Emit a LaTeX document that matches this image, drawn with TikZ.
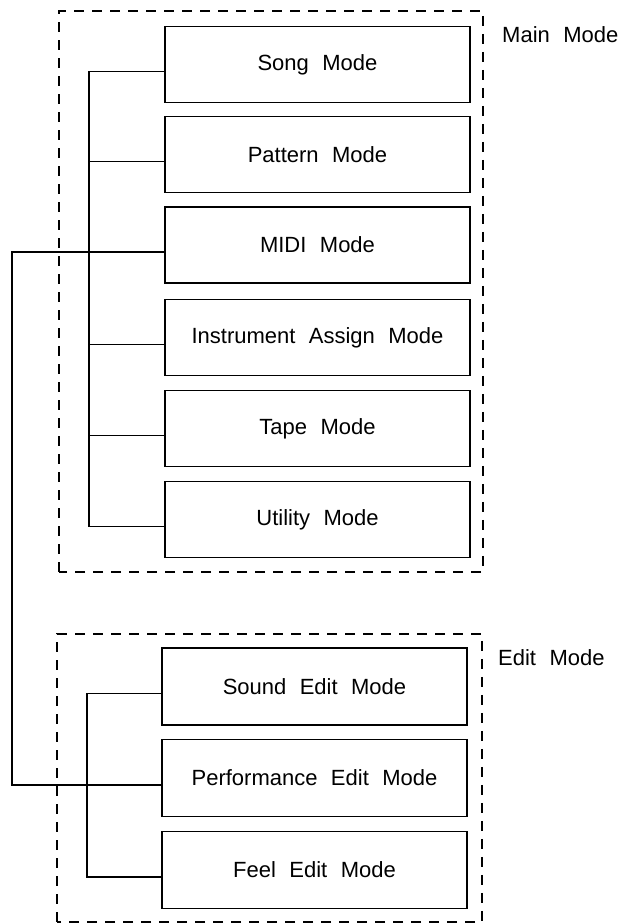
\documentclass[tikz,border=0pt]{standalone}
\usepackage{fontspec}
\setmainfont{Liberation Sans}[WordSpace=2.2]
\begin{document}
\begin{tikzpicture}[x=1pt,y=1pt,
  modebox/.style={draw, line width=1.6pt, minimum width=305pt, minimum height=76pt, inner sep=0pt, font=\fontsize{22}{26}\selectfont},
  groupframe/.style={draw, dash pattern=on 10pt off 8pt, line width=1.4pt},
  wire/.style={line width=1.2pt},
  grouplabel/.style={anchor=base west, inner sep=0pt, font=\fontsize{22}{26}\selectfont}]
\useasboundingbox (0,0) rectangle (621,924);
% group frames
\draw[groupframe] (59,352) rectangle (483,913);
\draw[groupframe] (57,2) rectangle (482,290);
\node[grouplabel] (mainlbl) at (502,881) {Main Mode};
\node[grouplabel] (editlbl) at (498,258) {Edit Mode};
% main mode boxes
\node[modebox] (song) at (317.5,859.5) {Song Mode};
\node[modebox] (pattern) at (317.5,769.5) {Pattern Mode};
\node[modebox] (midi) at (317.5,679) {MIDI Mode};
\node[modebox] (instr) at (317.5,586.5) {Instrument Assign Mode};
\node[modebox] (tape) at (317.5,495.5) {Tape Mode};
\node[modebox] (util) at (317.5,404.5) {Utility Mode};
% edit mode boxes
\node[modebox, minimum height=77pt] (sound) at (314.5,237.5) {Sound Edit Mode};
\node[modebox, minimum height=77pt] (perf) at (314.5,146) {Performance Edit Mode};
\node[modebox, minimum height=77pt] (feel) at (314.5,54) {Feel Edit Mode};
% connection points
\foreach \n in {song,pattern,midi,instr,tape,util,sound,perf,feel}
  \coordinate (\n-c) at ([yshift=-7pt]\n.west);
\coordinate (busx) at (89,0);
\coordinate (ebusx) at (87,0);
\coordinate (longx) at (12,0);
% main bus
\draw[wire] (song-c) -- (song-c -| busx) -- (util-c -| busx) -- (util-c);
\foreach \n in {pattern,midi,instr,tape}
  \draw[wire] (\n-c) -- (\n-c -| busx);
% edit bus
\draw[wire] (sound-c) -- (sound-c -| ebusx) -- (feel-c -| ebusx) -- (feel-c);
% link MIDI to Performance Edit
\draw[wire] (midi-c) -- (midi-c -| longx) -- (perf-c -| longx) -- (perf-c);
\end{tikzpicture}
\end{document}
